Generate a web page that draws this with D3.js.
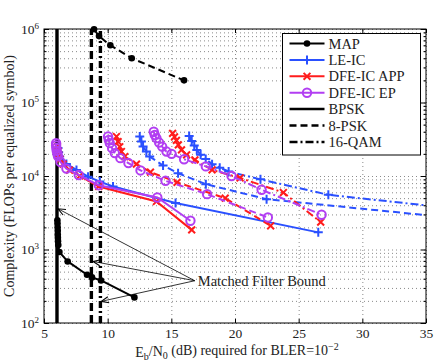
<!DOCTYPE html>
<html>
<head>
<meta charset="utf-8">
<script src="https://cdn.jsdelivr.net/npm/d3@7"></script>
<style>
  body { margin: 0; background: #fff; }
  text { font-family: "Liberation Serif", "Times New Roman", serif; fill: #222; }
</style>
</head>
<body>
<div id="chart"></div>
<script>
var width = 443,
    height = 364,
    margin = {top: 29, right: 17, bottom: 41, left: 44};

// ---- data ----
var xTicks = [5, 10, 15, 20, 25, 30, 35];
var yTicks = [1e2, 1e3, 1e4, 1e5, 1e6];
var yTickExp = ["2", "3", "4", "5", "6"];

// matched filter bounds, dB
var mfbNames = ["BPSK", "8-PSK", "16-QAM"];
var mfbValues = [6.02, 8.72, 9.43];

var mapBpskX = [6.05, 6.06, 6.07, 6.08, 6.08, 6.09, 6.1, 6.12, 6.21, 6.86, 8.38, 8.77, 9.48, 12.1];
var mapBpskY = [2500, 2250, 2000, 1800, 1600, 1450, 1300, 1150, 923, 688, 454, 417, 379, 223];
var map8pskX = [8.93, 9.32, 10.21, 11.89, 16.0];
var map8pskY = [9.9e5, 8.0e5, 6.0e5, 4.0e5, 2.0e5];

var leBpskX = [6.1, 6.15, 6.23, 6.76, 7.55, 8.46, 9.38, 10.42, 15.33, 26.54];
var leBpskY = [2.4e4, 2.1e4, 1.84e4, 1.46e4, 1.21e4, 9.8e3, 8.4e3, 7.2e3, 4.28e3, 1.71e3];
var appBpskX = [6.05, 6.1, 6.15, 6.25, 6.5, 7.0, 7.8, 9.3, 13.83, 16.6];
var appBpskY = [2.5e4, 2.2e4, 1.95e4, 1.7e4, 1.45e4, 1.2e4, 1.0e4, 7.2e3, 4.5e3, 1.85e3];
var epBpskX = [5.95, 5.95, 5.97, 6.0, 6.05, 6.1, 6.3, 6.76, 7.73, 9.3, 13.9, 16.5];
var epBpskY = [2.8e4, 2.6e4, 2.4e4, 2.2e4, 2.0e4, 1.85e4, 1.55e4, 1.26e4, 1.03e4, 7.5e3, 5.1e3, 2.46e3];

var le8pskX = [12.52, 12.65, 12.78, 13.04, 13.3, 14.35, 15.53, 17.71, 22.48, 38];
var le8pskY = [3.44e4, 2.94e4, 2.51e4, 2.15e4, 1.84e4, 1.39e4, 1.09e4, 7.75e3, 4.84e3, 2.6e3];
var app8pskX = [10.69, 10.82, 10.95, 11.08, 11.34, 12.26, 13.36, 15.45, 19.23, 22.8];
var app8pskY = [3.44e4, 2.94e4, 2.5e4, 2.15e4, 1.84e4, 1.45e4, 1.13e4, 8.2e3, 5.0e3, 2.1e3];
var ep8pskX = [10.03, 10.09, 10.17, 10.35, 10.56, 11.0, 11.63, 12.58, 14.54, 17.81, 22.58];
var ep8pskY = [3.44e4, 3.1e4, 2.8e4, 2.39e4, 2.05e4, 1.75e4, 1.5e4, 1.19e4, 8.6e3, 5.66e3, 2.73e3];

var le16qamX = [16.4, 16.6, 16.8, 17.0, 17.3, 17.7, 18.2, 18.8, 19.5, 22.0, 27.33, 38];
var le16qamY = [3.5e4, 3.0e4, 2.6e4, 2.25e4, 1.95e4, 1.7e4, 1.45e4, 1.3e4, 1.15e4, 9.0e3, 5.55e3, 3.5e3];
var app16qamX = [15.1, 15.25, 15.4, 15.55, 15.8, 16.2, 16.85, 18.2, 20.4, 23.8, 26.73];
var app16qamY = [3.8e4, 3.4e4, 3.05e4, 2.65e4, 2.27e4, 1.94e4, 1.66e4, 1.21e4, 9.4e3, 5.96e3, 2.36e3];
var ep16qamX = [13.62, 13.7, 13.83, 14.04, 14.28, 14.62, 15.02, 16.0, 17.71, 19.73, 22.09, 26.8];
var ep16qamY = [4.0e4, 3.62e4, 3.27e4, 2.85e4, 2.51e4, 2.15e4, 2.0e4, 1.69e4, 1.35e4, 1.0e4, 6.5e3, 2.97e3];

// annotation: text anchor and arrow tips
var annoText = "Matched Filter Bound";
var annoFrom = [16.84, 376];
var annoTipX = [6.1, 8.85, 9.5];
var annoTipY = [3580, 689, 197];

// ---- styles ----
var colors = {map: "#000", le: "#2a50ff", app: "#ff1c1c", ep: "#b23ef2"};
var dashes = {bpsk: null, psk8: "7,4", qam16: "8,3,2,3"};

var series = [
  {x: mapBpskX, y: mapBpskY, c: colors.map, d: dashes.bpsk, m: "dot"},
  {x: map8pskX, y: map8pskY, c: colors.map, d: dashes.psk8, m: "dot"},
  {x: leBpskX, y: leBpskY, c: colors.le, d: dashes.bpsk, m: "plus"},
  {x: le8pskX, y: le8pskY, c: colors.le, d: dashes.psk8, m: "plus"},
  {x: le16qamX, y: le16qamY, c: colors.le, d: dashes.qam16, m: "plus"},
  {x: appBpskX, y: appBpskY, c: colors.app, d: dashes.bpsk, m: "cross"},
  {x: app8pskX, y: app8pskY, c: colors.app, d: dashes.psk8, m: "cross"},
  {x: app16qamX, y: app16qamY, c: colors.app, d: dashes.qam16, m: "cross"},
  {x: epBpskX, y: epBpskY, c: colors.ep, d: dashes.bpsk, m: "circle"},
  {x: ep8pskX, y: ep8pskY, c: colors.ep, d: dashes.psk8, m: "circle"},
  {x: ep16qamX, y: ep16qamY, c: colors.ep, d: dashes.qam16, m: "circle"}
];

var legendItems = [
  {name: "MAP", c: colors.map, d: null, m: "dot", w: 2},
  {name: "LE-IC", c: colors.le, d: null, m: "plus", w: 2},
  {name: "DFE-IC APP", c: colors.app, d: null, m: "cross", w: 2},
  {name: "DFE-IC EP", c: colors.ep, d: null, m: "circle", w: 2},
  {name: "BPSK", c: "#000", d: null, m: null, w: 2.5},
  {name: "8-PSK", c: "#000", d: "7,4", m: null, w: 2.5},
  {name: "16-QAM", c: "#000", d: "8,3,2,3", m: null, w: 2.5}
];

var w = width - margin.left - margin.right,
    h = height - margin.top - margin.bottom;

var x = d3.scaleLinear().domain([5, 35]).range([0, w]);
var y = d3.scaleLog().domain([1e2, 1e6]).range([h, 0]);

var svg = d3.select("#chart").append("svg")
  .attr("width", width)
  .attr("height", height)
  .append("g")
  .attr("transform", "translate(" + margin.left + "," + margin.top + ")");

svg.append("defs").append("clipPath").attr("id", "clip")
  .append("rect").attr("width", w).attr("height", h);

// minor y values
var yMinor = [];
[1e2, 1e3, 1e4, 1e5].forEach(function(b) {
  for (var k = 2; k <= 9; k++) yMinor.push(b * k);
});

// ---- grid ----
svg.append("g").attr("class", "grid")
  .call(d3.axisLeft(y).tickValues(yTicks.concat(yMinor)).tickSize(-w).tickFormat(""))
  .call(function(g) {
    g.select(".domain").remove();
    g.selectAll("line").attr("stroke", "#8a8a8a").attr("stroke-dasharray", "1,3");
  });
svg.append("g").attr("class", "grid")
  .attr("transform", "translate(0," + h + ")")
  .call(d3.axisBottom(x).tickValues(xTicks).tickSize(-h).tickFormat(""))
  .call(function(g) {
    g.select(".domain").remove();
    g.selectAll("line").attr("stroke", "#8a8a8a").attr("stroke-dasharray", "1,3");
  });

// ---- matched filter bound verticals ----
var mfbDash = [null, "8,4", "7,3,2,3"];
svg.selectAll(".mfb")
  .data(mfbValues)
  .enter().append("line")
  .attr("class", "mfb")
  .attr("x1", function(d) { return x(d); })
  .attr("x2", function(d) { return x(d); })
  .attr("y1", y(1e2))
  .attr("y2", y(1e6))
  .attr("stroke", "#000")
  .attr("stroke-width", 3.4)
  .attr("stroke-dasharray", function(d, i) { return mfbDash[i]; });

// ---- curves ----
var line = d3.line()
  .x(function(d) { return x(d[0]); })
  .y(function(d) { return y(d[1]); });

function drawMarker(g, type, cx, cy, color) {
  if (type === "dot") {
    g.append("circle").attr("cx", cx).attr("cy", cy).attr("r", 3.3).attr("fill", color);
  } else if (type === "plus") {
    g.append("path").attr("d", "M" + (cx - 4.5) + "," + cy + "H" + (cx + 4.5) + "M" + cx + "," + (cy - 4.5) + "V" + (cy + 4.5))
      .attr("stroke", color).attr("stroke-width", 2).attr("fill", "none");
  } else if (type === "cross") {
    var s = 3.4;
    g.append("path").attr("d", "M" + (cx - s) + "," + (cy - s) + "L" + (cx + s) + "," + (cy + s) + "M" + (cx - s) + "," + (cy + s) + "L" + (cx + s) + "," + (cy - s))
      .attr("stroke", color).attr("stroke-width", 2).attr("fill", "none");
  } else if (type === "circle") {
    g.append("circle").attr("cx", cx).attr("cy", cy).attr("r", 4.2)
      .attr("stroke", color).attr("stroke-width", 2).attr("fill", "none");
  }
}

series.forEach(function(s) {
  var pts = s.x.map(function(v, i) { return [v, s.y[i]]; });
  svg.append("path")
    .datum(pts)
    .attr("clip-path", "url(#clip)")
    .attr("d", line)
    .attr("fill", "none")
    .attr("stroke", s.c)
    .attr("stroke-width", 2)
    .attr("stroke-dasharray", s.d);
  var mg = svg.append("g");
  pts.filter(function(p) { return p[0] <= 35; }).forEach(function(p) {
    drawMarker(mg, s.m, x(p[0]), y(p[1]), s.c);
  });
});

// ---- annotation arrows ----
var ax0 = x(annoFrom[0]), ay0 = y(annoFrom[1]);
annoTipX.forEach(function(tx, i) {
  var px = x(tx), py = y(annoTipY[i]);
  svg.append("line")
    .attr("x1", ax0).attr("y1", ay0).attr("x2", px).attr("y2", py)
    .attr("stroke", "#000").attr("stroke-width", 0.8);
  var ang = Math.atan2(ay0 - py, ax0 - px), L = 8, sp = 0.4;
  svg.append("path")
    .attr("d", "M" + (px + L * Math.cos(ang - sp)) + "," + (py + L * Math.sin(ang - sp)) +
      "L" + px + "," + py +
      "L" + (px + L * Math.cos(ang + sp)) + "," + (py + L * Math.sin(ang + sp)))
    .attr("fill", "none").attr("stroke", "#000").attr("stroke-width", 1.1);
});
svg.append("text")
  .attr("x", ax0 + 3)
  .attr("y", ay0 + 5)
  .style("font-size", "14.5px")
  .text(annoText);

// ---- axes ----
function styleAxis(g) {
  g.select(".domain").remove();
  g.selectAll("line").attr("stroke", "#000");
  g.selectAll("text").style("font-size", "13.5px").attr("fill", "#222")
    .style("font-family", "Liberation Serif, serif");
}

svg.append("g")
  .attr("transform", "translate(0," + h + ")")
  .call(d3.axisBottom(x).tickValues(xTicks).tickSize(-4).tickPadding(5))
  .call(styleAxis);
svg.append("g")
  .call(d3.axisTop(x).tickValues(xTicks).tickSize(-4).tickFormat(""))
  .call(styleAxis);

var yAxisG = svg.append("g")
  .call(d3.axisLeft(y).tickValues(yTicks).tickSize(-5).tickPadding(5).tickFormat(function() { return ""; }))
  .call(styleAxis);
yAxisG.selectAll(".tick text").each(function(d, i) {
  var t = d3.select(this);
  t.append("tspan").text("10");
  t.append("tspan").attr("dy", "-0.55em").style("font-size", "9px").text(yTickExp[i]);
});
svg.append("g")
  .call(d3.axisLeft(y).tickValues(yMinor).tickSize(-2.5).tickFormat(""))
  .call(styleAxis);
svg.append("g")
  .attr("transform", "translate(" + w + ",0)")
  .call(d3.axisRight(y).tickValues(yTicks).tickSize(-5).tickFormat(""))
  .call(styleAxis);
svg.append("g")
  .attr("transform", "translate(" + w + ",0)")
  .call(d3.axisRight(y).tickValues(yMinor).tickSize(-2.5).tickFormat(""))
  .call(styleAxis);

svg.append("rect")
  .attr("width", w).attr("height", h)
  .attr("fill", "none").attr("stroke", "#000").attr("stroke-width", 1);

// axis labels
var xl = svg.append("text")
  .attr("x", w / 2 + 2)
  .attr("y", h + 34)
  .attr("text-anchor", "middle")
  .style("font-size", "14px");
xl.append("tspan").text("E");
xl.append("tspan").attr("dy", "0.3em").style("font-size", "10px").text("b");
xl.append("tspan").attr("dy", "-0.3em").text("/N");
xl.append("tspan").attr("dy", "0.3em").style("font-size", "10px").text("0");
xl.append("tspan").attr("dy", "-0.3em").text(" (dB) required for BLER=10");
xl.append("tspan").attr("dy", "-0.5em").style("font-size", "10px").text("\u22122");

svg.append("text")
  .attr("transform", "translate(" + (-30) + "," + (h / 2) + ") rotate(-90)")
  .attr("text-anchor", "middle")
  .style("font-size", "14px")
  .text("Complexity (FLOPs per equalized symbol)");

// ---- legend ----
var lg = svg.append("g").attr("transform", "translate(" + (x(5) + 238.5) + ",4.5)");
lg.append("rect")
  .attr("width", 138).attr("height", 121.5)
  .attr("fill", "#fff").attr("stroke", "#000").attr("stroke-width", 1);
legendItems.forEach(function(it, i) {
  var yy = 10 + i * 16.4;
  lg.append("line")
    .attr("x1", 7).attr("x2", 42).attr("y1", yy).attr("y2", yy)
    .attr("stroke", it.c).attr("stroke-width", it.w)
    .attr("stroke-dasharray", it.d);
  if (it.m) drawMarker(lg, it.m, 24.5, yy, it.c);
  lg.append("text")
    .attr("x", 46).attr("y", yy + 5)
    .style("font-size", "14.5px")
    .text(it.name);
});
</script>
</body>
</html>
